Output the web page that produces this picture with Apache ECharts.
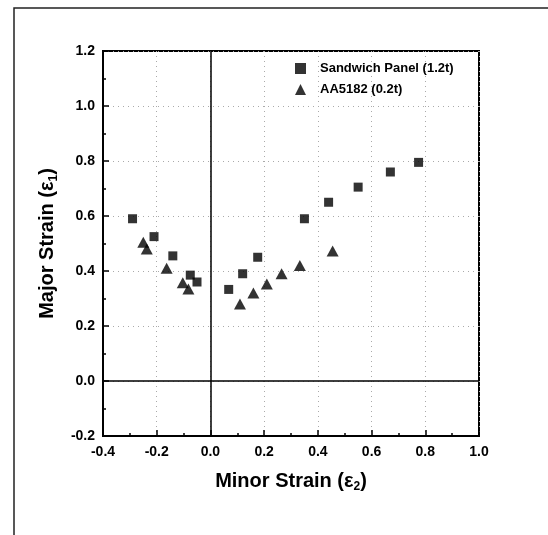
<!DOCTYPE html>
<html>
<head>
<meta charset="utf-8">
<script src="https://cdn.jsdelivr.net/npm/echarts@6/dist/echarts.min.js"></script>
<style>
  html, body { margin: 0; padding: 0; background: #fff; }
  #chart { width: 548px; height: 535px; }
</style>
</head>
<body>
<div id="chart"></div>
<script>
  // sandwich panel (1.2t), squares
  const panelMinor = [-0.29, -0.21, -0.14, -0.075, -0.05, 0.068, 0.12, 0.176, 0.35, 0.44, 0.55, 0.67, 0.775]
  const panelMajor = [0.59, 0.525, 0.455, 0.385, 0.36, 0.333, 0.39, 0.45, 0.59, 0.65, 0.705, 0.76, 0.795]
  // AA5182 (0.2t), triangles
  const alMinor = [-0.25, -0.237, -0.163, -0.103, -0.082, 0.11, 0.16, 0.21, 0.265, 0.333, 0.455]
  const alMajor = [0.505, 0.48, 0.41, 0.357, 0.335, 0.28, 0.32, 0.353, 0.39, 0.42, 0.473]

  const seriesNames = ['Sandwich Panel (1.2t)', 'AA5182 (0.2t)']
  const xRange = [-0.4, 1.0]
  const yRange = [-0.2, 1.2]
  const tickStep = 0.2

  const font = 'Liberation Sans, Arial, sans-serif'

  const toPairs = (xs, ys) => xs.map((x, i) => [x, ys[i]])

  const axisCommon = {
    interval: tickStep,
    axisLine: { show: true, onZero: false, lineStyle: { color: '#000', width: 2 } },
    axisTick: { show: true, inside: true, length: 6, lineStyle: { color: '#000', width: 1.5 } },
    minorTick: { show: true, splitNumber: 2, length: 3, lineStyle: { color: '#000', width: 1.5 } },
    splitLine: { show: true, lineStyle: { color: '#aaa', type: [1, 4], width: 1 } },
    axisLabel: {
      color: '#000',
      fontFamily: font,
      fontWeight: 'bold',
      fontSize: 14,
      formatter: v => v.toFixed(1)
    },
    nameLocation: 'middle',
    nameTextStyle: {
      color: '#000',
      fontFamily: font,
      fontWeight: 'bold',
      fontSize: 20,
      rich: {
        sub: { fontFamily: font, fontWeight: 'bold', fontSize: 12, padding: [12, 0, 0, 0], color: '#000' }
      }
    }
  }

  const option = {
    animation: false,
    backgroundColor: '#fff',
    grid: {
      left: 103,
      right: 69,
      top: 51,
      bottom: 99,
      show: true,
      borderColor: '#000',
      borderWidth: 2
    },
    legend: {
      left: 290,
      top: 57,
      orient: 'vertical',
      itemGap: 8,
      itemWidth: 11,
      itemHeight: 11,
      textStyle: {
        color: '#000',
        fontFamily: font,
        fontWeight: 'bold',
        fontSize: 13,
        lineHeight: 13,
        padding: [0, 0, 0, 9]
      },
      data: [
        { name: seriesNames[0], icon: 'rect', itemStyle: { color: '#000' } },
        { name: seriesNames[1], icon: 'triangle', itemStyle: { color: '#000' } }
      ]
    },
    xAxis: Object.assign({}, axisCommon, {
      type: 'value',
      min: xRange[0],
      max: xRange[1],
      name: 'Minor Strain (ε{sub|2})',
      nameGap: 33,
      axisLabel: Object.assign({}, axisCommon.axisLabel, { margin: 9 })
    }),
    yAxis: Object.assign({}, axisCommon, {
      type: 'value',
      min: yRange[0],
      max: yRange[1],
      name: 'Major Strain (ε{sub|1})',
      nameGap: 43,
      axisLabel: Object.assign({}, axisCommon.axisLabel, { margin: 8 })
    }),
    graphic: [{
      type: 'polyline',
      silent: true,
      shape: { points: [[14, 535], [14, 8], [548, 8]] },
      style: { stroke: '#222', lineWidth: 1.5, fill: null }
    }],
    series: [{
      name: seriesNames[0],
      type: 'scatter',
      symbol: 'rect',
      symbolSize: 9,
      itemStyle: { color: '#000' },
      data: toPairs(panelMinor, panelMajor),
      markLine: {
        silent: true,
        symbol: 'none',
        label: { show: false },
        lineStyle: { color: '#000', type: 'solid', width: 1.5 },
        data: [{ xAxis: 0 }, { yAxis: 0 }]
      }
    }, {
      name: seriesNames[1],
      type: 'scatter',
      symbol: 'triangle',
      symbolSize: [12, 11],
      itemStyle: { color: '#000' },
      data: toPairs(alMinor, alMajor)
    }]
  }

  const chart = echarts.init(document.getElementById('chart'))
  chart.setOption(option)
</script>
</body>
</html>
